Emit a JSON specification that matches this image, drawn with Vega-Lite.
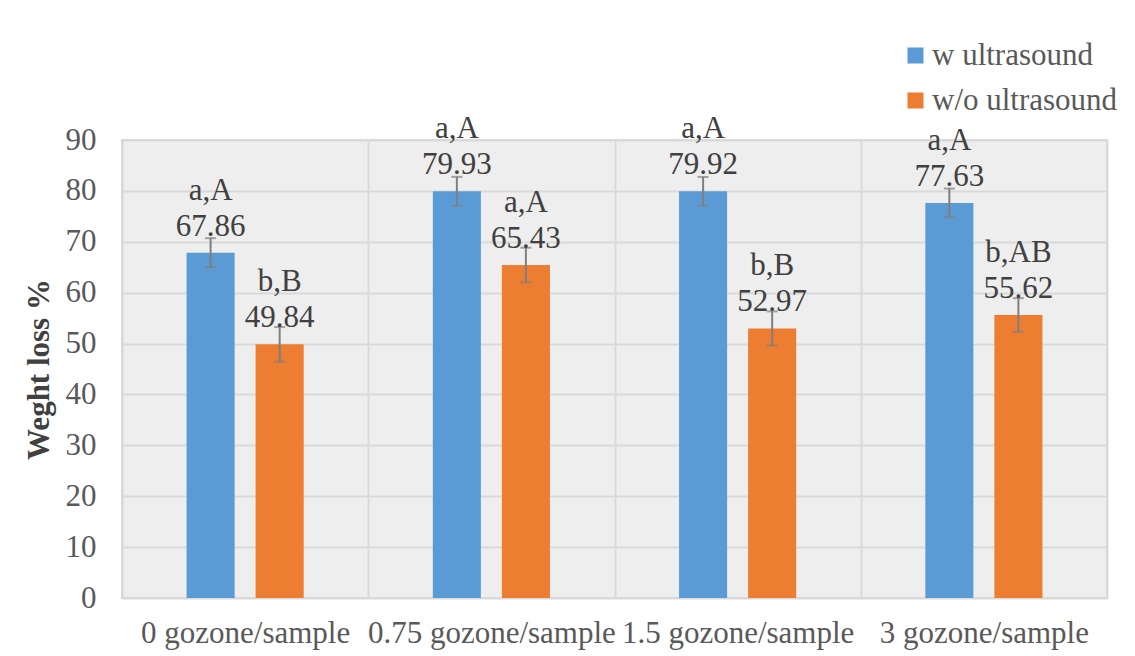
{
  "$schema": "https://vega.github.io/schema/vega-lite/v6.json",
  "width": 985,
  "height": 458,
  "autosize": {"type": "none"},
  "padding": {"left": 122, "top": 140, "right": 28, "bottom": 58},
  "background": "white",
  "config": {
    "font": "Liberation Serif",
    "view": {"fill": "#eeeeee", "stroke": "#d9d9d9", "strokeWidth": 2}
  },
  "data": {
    "values": [
      {"dose": "0 gozone/sample", "treat": "w ultrasound", "value": 67.86, "lo": 65.01, "hi": 70.71, "sig": "a,A"},
      {"dose": "0 gozone/sample", "treat": "w/o ultrasound", "value": 49.84, "lo": 46.44, "hi": 53.24, "sig": "b,B"},
      {"dose": "0.75 gozone/sample", "treat": "w ultrasound", "value": 79.93, "lo": 77.10, "hi": 82.76, "sig": "a,A"},
      {"dose": "0.75 gozone/sample", "treat": "w/o ultrasound", "value": 65.43, "lo": 62.03, "hi": 68.83, "sig": "a,A"},
      {"dose": "1.5 gozone/sample", "treat": "w ultrasound", "value": 79.92, "lo": 77.10, "hi": 82.74, "sig": "a,A"},
      {"dose": "1.5 gozone/sample", "treat": "w/o ultrasound", "value": 52.97, "lo": 49.62, "hi": 56.32, "sig": "b,B"},
      {"dose": "3 gozone/sample", "treat": "w ultrasound", "value": 77.63, "lo": 74.80, "hi": 80.46, "sig": "a,A"},
      {"dose": "3 gozone/sample", "treat": "w/o ultrasound", "value": 55.62, "lo": 52.32, "hi": 58.92, "sig": "b,AB"}
    ]
  },
  "encoding": {
    "x": {
      "field": "dose",
      "type": "nominal",
      "sort": ["0 gozone/sample", "0.75 gozone/sample", "1.5 gozone/sample", "3 gozone/sample"],
      "scale": {"paddingInner": 0, "paddingOuter": 0},
      "axis": {
        "title": null,
        "labelAngle": 0,
        "labelFontSize": 31,
        "labelColor": "#595959",
        "labelPadding": 20,
        "labelLimit": 0,
        "labelOverlap": false,
        "labelBound": false,
        "ticks": false,
        "domain": false,
        "grid": true,
        "tickBand": "extent",
        "gridColor": "#d9d9d9",
        "gridWidth": 2
      }
    },
    "xOffset": {
      "field": "treat",
      "type": "nominal",
      "sort": ["w ultrasound", "w/o ultrasound"],
      "scale": {"paddingInner": 0.304, "paddingOuter": 0.935}
    }
  },
  "layer": [
    {
      "mark": {"type": "bar"},
      "encoding": {
        "y": {
          "field": "value",
          "type": "quantitative",
          "scale": {"domain": [0, 90], "nice": false},
          "axis": {
            "title": "Weght loss %",
            "titleFontSize": 31,
            "titleFontWeight": "bold",
            "titleColor": "#404040",
            "titlePadding": 10,
            "values": [0, 10, 20, 30, 40, 50, 60, 70, 80, 90],
            "labelFontSize": 31,
            "labelColor": "#595959",
            "labelPadding": 26,
            "ticks": false,
            "domain": true,
            "domainColor": "#d9d9d9",
            "domainWidth": 2,
            "gridColor": "#d9d9d9",
            "gridWidth": 2
          }
        },
        "color": {
          "field": "treat",
          "type": "nominal",
          "scale": {"domain": ["w ultrasound", "w/o ultrasound"], "range": ["#5b9bd5", "#ed7d31"]},
          "legend": {
            "title": null,
            "orient": "none",
            "legendX": 778,
            "legendY": -100,
            "symbolType": "square",
            "symbolSize": 256,
            "symbolStrokeWidth": 0,
            "symbolOpacity": 1,
            "labelFontSize": 31,
            "labelColor": "#595959",
            "labelOffset": 1,
            "labelLimit": 0,
            "rowPadding": 13
          }
        }
      }
    },
    {
      "mark": {"type": "rule", "color": "#7f7f7f", "strokeWidth": 2},
      "encoding": {
        "y": {"field": "lo", "type": "quantitative"},
        "y2": {"field": "hi"}
      }
    },
    {
      "mark": {"type": "tick", "color": "#7f7f7f", "size": 11, "thickness": 2},
      "encoding": {"y": {"field": "lo", "type": "quantitative"}}
    },
    {
      "mark": {"type": "tick", "color": "#7f7f7f", "size": 11, "thickness": 2},
      "encoding": {"y": {"field": "hi", "type": "quantitative"}}
    },
    {
      "mark": {"type": "text", "fontSize": 31, "color": "#404040", "baseline": "alphabetic", "dy": -17},
      "encoding": {
        "y": {"field": "value", "type": "quantitative"},
        "text": {"field": "value", "type": "quantitative", "format": ".2f"}
      }
    },
    {
      "mark": {"type": "text", "fontSize": 31, "color": "#404040", "baseline": "alphabetic", "dy": -53},
      "encoding": {
        "y": {"field": "value", "type": "quantitative"},
        "text": {"field": "sig", "type": "nominal"}
      }
    }
  ]
}
